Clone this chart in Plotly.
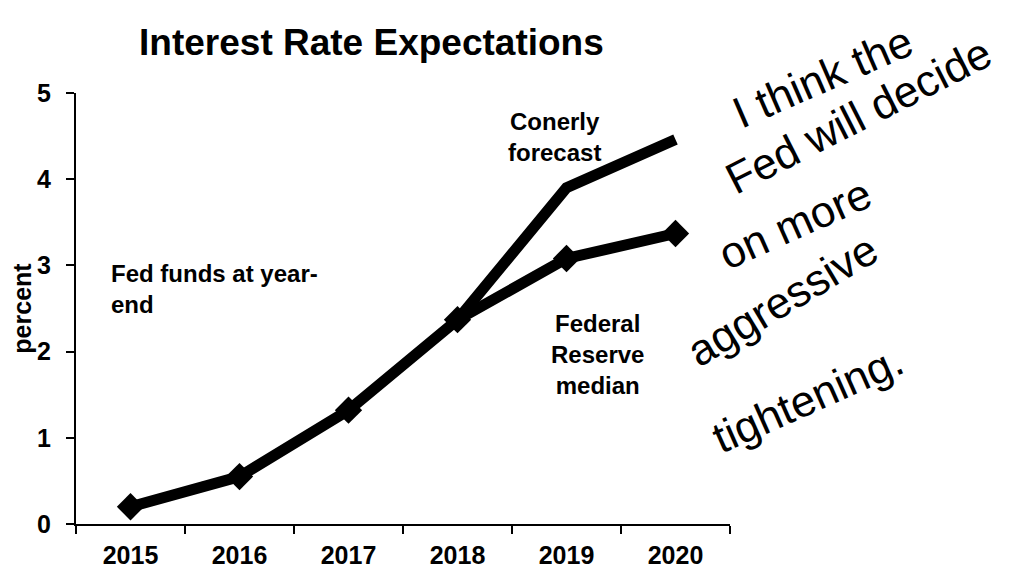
import plotly.graph_objects as go

years = ["2015", "2016", "2017", "2018", "2019", "2020"]
fed_median = [0.2, 0.55, 1.32, 2.37, 3.08, 3.37]
conerly_years = ["2018", "2019", "2020"]
conerly_forecast = [2.37, 3.9, 4.46]
y_ticks = [0, 1, 2, 3, 4, 5]

title_text = "Interest Rate Expectations"
y_title = "percent"
label_conerly = "Conerly<br>forecast"
label_fed_funds = "Fed funds at year-<br>end"
label_fed_median = "Federal<br>Reserve<br>median"
handwriting = ["I think the", "Fed will decide", "on more", "aggressive", "tightening."]

FONT = "Liberation Sans, Arial, sans-serif"

fig = go.Figure()
fig.add_trace(go.Scatter(
    x=conerly_years, y=conerly_forecast, mode="lines",
    line=dict(color="black", width=11), showlegend=False, hoverinfo="skip",
))
fig.add_trace(go.Scatter(
    x=years, y=fed_median, mode="lines+markers",
    line=dict(color="black", width=11),
    marker=dict(symbol="diamond", size=21, color="black"),
    showlegend=False, hoverinfo="skip",
))

annotations = [
    dict(text="<b>" + label_conerly + "</b>", x=0.731, y=0.898, xanchor="center", yanchor="middle", align="center"),
    dict(text="<b>" + label_fed_funds + "</b>", x=0.05, y=0.545, xanchor="left", yanchor="middle", align="left"),
    dict(text="<b>" + label_fed_median + "</b>", x=0.798, y=0.394, xanchor="center", yanchor="middle", align="center"),
]
for a in annotations:
    a.update(xref="paper", yref="paper", showarrow=False, font=dict(family=FONT, size=24, color="black"))

hw_pos = [(1.142, 1.039, -23.5), (1.196, 0.947, -27), (1.099, 0.698, -24), (1.081, 0.520, -31), (1.119, 0.292, -24)]
for txt, (px, py, ang) in zip(handwriting, hw_pos):
    annotations.append(dict(
        text=txt, x=px, y=py, xref="paper", yref="paper", showarrow=False,
        xanchor="center", yanchor="middle", textangle=ang,
        font=dict(family=FONT, size=44, color="black"),
    ))

fig.update_layout(
    width=1018, height=560,
    template="none",
    paper_bgcolor="white", plot_bgcolor="white",
    margin=dict(l=68, r=296, t=85, b=44, pad=0),
    title=dict(text="<b>" + title_text + "</b>", x=0.357, xanchor="center",
               y=1 - 34 / 560, yanchor="middle", yref="container",
               font=dict(family=FONT, size=37, color="black")),
    annotations=annotations,
    xaxis=dict(
        type="category", categoryorder="array", categoryarray=years,
        range=[-0.5, 5.5], tickson="boundaries",
        showline=True, linecolor="black", linewidth=2,
        ticks="outside", ticklen=8, tickwidth=2, tickcolor="black",
        showgrid=False, zeroline=False, automargin=False,
        tickfont=dict(family=FONT, size=25, color="black"),
        ticklabelstandoff=8,
        tickprefix="<b>", ticksuffix="</b>",
    ),
    yaxis=dict(
        range=[0, 5], tickvals=y_ticks, ticktext=["<b>%d</b>" % v for v in y_ticks],
        showline=True, linecolor="black", linewidth=2,
        ticks="outside", ticklen=8, tickwidth=2, tickcolor="black",
        showgrid=False, zeroline=False, automargin=False,
        tickfont=dict(family=FONT, size=25, color="black"),
        ticklabelstandoff=10,
        title=dict(text="<b>" + y_title + "</b>", standoff=6,
                   font=dict(family=FONT, size=25, color="black")),
    ),
)

fig.write_html("out.html")
